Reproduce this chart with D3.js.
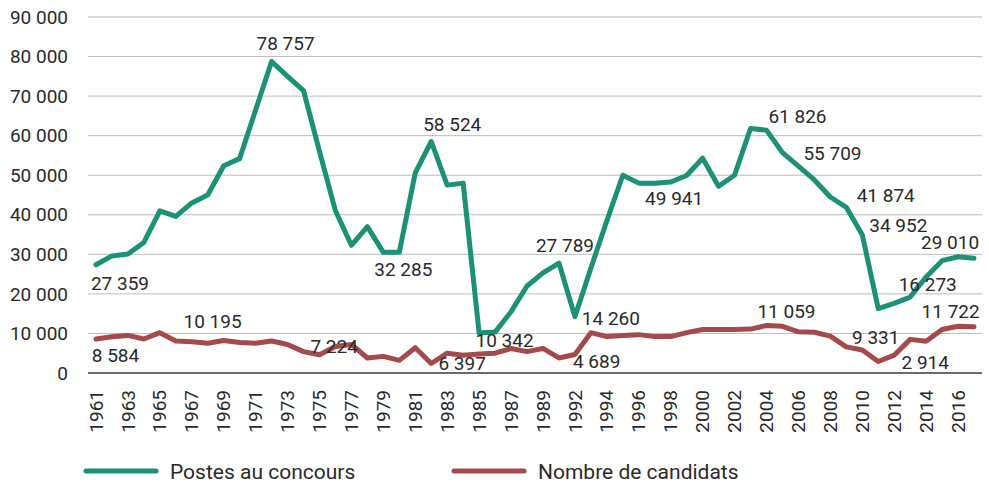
<!DOCTYPE html>
<html>
<head>
<meta charset="utf-8">
<script src="https://cdn.jsdelivr.net/npm/d3@7"></script>
<style>
  body { margin: 0; background: #fff; }
  svg text { font-family: Roboto, "DejaVu Sans", sans-serif; fill: #2a2a2a; }
</style>
</head>
<body>
<svg id="chart" width="989" height="483"></svg>
<script>
// ---------- Data ----------
const years = [
  "1961","1962","1963","1964","1965","1966","1967","1968","1969","1970",
  "1971","1972","1973","1974","1975","1976","1977","1978","1979","1980",
  "1981","1982","1983","1984","1985","1986","1987","1988","1989","1990",
  "1992","1993","1994","1995","1996","1997","1998","1999","2000","2001",
  "2002","2003","2004","2005","2006","2007","2008","2009","2010","2011",
  "2012","2013","2014","2015","2016","2017"
];

const postes = [
  27359, 29600, 30100, 33000, 41000, 39600, 43000, 45000, 52400, 54200,
  66500, 78757, 75000, 71400, 56000, 41000, 32285, 37000, 30500, 30500,
  50600, 58524, 47500, 48000, 10100, 10342, 15500, 22000, 25300, 27789,
  14260, 26500, 38500, 50000, 48000, 48000, 48300, 49941, 54300, 47200,
  50000, 61826, 61400, 55709, 52300, 48800, 44500, 41874, 34952, 16273,
  17600, 19200, 24300, 28400, 29400, 29010
];

const candidats = [
  8584, 9170, 9500, 8600, 10195, 8100, 7900, 7500, 8200, 7700,
  7500, 8100, 7200, 5400, 4600, 6700, 7224, 3800, 4200, 3200,
  6397, 2400, 5000, 4500, 4800, 5000, 6200, 5400, 6200, 3800,
  4689, 10200, 9200, 9500, 9700, 9200, 9200, 10200, 11000, 11000,
  11000, 11100, 12000, 11800, 10400, 10300, 9331, 6600, 5800, 2914,
  4500, 8500, 8000, 11000, 11800, 11722
];

const yTicks = [0, 10000, 20000, 30000, 40000, 50000, 60000, 70000, 80000, 90000];

const seriesNames = ["Postes au concours", "Nombre de candidats"];

// value labels: year and printed text
const labelsPostes = [
  ["1961", "27 359"], ["1972", "78 757"], ["1982", "58 524"], ["1980", "32 285"],
  ["1986", "10 342"], ["1990", "27 789"], ["1992", "14 260"], ["1999", "49 941"],
  ["2004", "61 826"], ["2005", "55 709"], ["2009", "41 874"], ["2010", "34 952"],
  ["2011", "16 273"], ["2017", "29 010"]
];
const labelsCandidats = [
  ["1961", "8 584"], ["1965", "10 195"], ["1977", "7 224"], ["1984", "6 397"],
  ["1992", "4 689"], ["2004", "11 059"], ["2008", "9 331"], ["2011", "2 914"],
  ["2017", "11 722"]
];

// placement of each label relative to its point (centre x, baseline y)
const offsetsPostes = [
  [24, 25], [14, -11.5], [21, -10.5], [4, 24],
  [9.5, 14.6], [6, -11], [36, 8.4], [-12.5, 29.5],
  [31, -7], [50, 7.4], [39.4, -5.4], [36, -2.7],
  [49.5, -17.6], [-24, -9.2]
];
const offsetsCandidats = [
  [19.5, 23], [52.7, -4.7], [-17.3, 8.6], [-1, 14.8],
  [21.7, 13.5], [20, -8], [45.4, 7.9], [47, 7.5],
  [-23.4, -8.6]
];

// ---------- Layout ----------
const GREEN = "#1b9176";
const RED = "#a54a4b";
const plotLeft = 88, plotRight = 982, plotTop = 17, plotBottom = 373;

const svg = d3.select("#chart");

const x = d3.scaleBand().domain(years).range([plotLeft, plotRight]).padding(0);
const y = d3.scaleLinear().domain([0, 90000]).range([plotBottom, plotTop]);
const cx = d => x(d) + x.bandwidth() / 2;

const fmtTick = v => d3.format(",")(v).replace(/,/g, " ");

// gridlines
svg.append("g")
  .selectAll("line")
  .data(yTicks.filter(v => v > 0))
  .join("line")
  .attr("x1", plotLeft).attr("x2", plotRight)
  .attr("y1", d => y(d)).attr("y2", d => y(d))
  .attr("stroke", "#bdbdbd")
  .attr("stroke-width", 1);

// y tick labels
svg.append("g")
  .selectAll("text")
  .data(yTicks)
  .join("text")
  .attr("x", 68)
  .attr("y", d => y(d))
  .attr("dy", "0.35em")
  .attr("text-anchor", "end")
  .attr("font-size", 19)
  .text(fmtTick);

// base axis
svg.append("line")
  .attr("x1", plotLeft).attr("x2", plotRight)
  .attr("y1", y(0)).attr("y2", y(0))
  .attr("stroke", "#3a3a3a")
  .attr("stroke-width", 1.3);

// x labels, every other category
svg.append("g")
  .selectAll("text")
  .data(years.filter((d, i) => i % 2 === 0))
  .join("text")
  .attr("transform", d => `translate(${cx(d)},390) rotate(-90)`)
  .attr("dy", "0.35em")
  .attr("text-anchor", "end")
  .attr("font-size", 19)
  .text(d => d);

// lines
const line = d3.line()
  .x((d, i) => cx(years[i]))
  .y(d => y(d));

svg.append("path")
  .datum(postes)
  .attr("d", line)
  .attr("fill", "none")
  .attr("stroke", GREEN)
  .attr("stroke-width", 5)
  .attr("stroke-linejoin", "round")
  .attr("stroke-linecap", "round");

svg.append("path")
  .datum(candidats)
  .attr("d", line)
  .attr("fill", "none")
  .attr("stroke", RED)
  .attr("stroke-width", 5)
  .attr("stroke-linejoin", "round")
  .attr("stroke-linecap", "round");

// value labels
function drawLabels(list, offsets, values) {
  svg.append("g")
    .selectAll("text")
    .data(list)
    .join("text")
    .attr("x", (d, i) => cx(d[0]) + offsets[i][0])
    .attr("y", (d, i) => y(values[years.indexOf(d[0])]) + offsets[i][1])
    .attr("text-anchor", "middle")
    .attr("font-size", 19)
    .text(d => d[1]);
}
drawLabels(labelsPostes, offsetsPostes, postes);
drawLabels(labelsCandidats, offsetsCandidats, candidats);

// legend
const legend = svg.append("g")
  .selectAll("g")
  .data(seriesNames)
  .join("g")
  .attr("transform", (d, i) => `translate(${i === 0 ? 86 : 454},471)`);

legend.append("line")
  .attr("x1", 0).attr("x2", 70)
  .attr("y1", 0).attr("y2", 0)
  .attr("stroke", (d, i) => i === 0 ? GREEN : RED)
  .attr("stroke-width", 5)
  .attr("stroke-linecap", "round");

legend.append("text")
  .attr("x", 84)
  .attr("y", 8)
  .attr("font-size", 21)
  .text(d => d);
</script>
</body>
</html>
